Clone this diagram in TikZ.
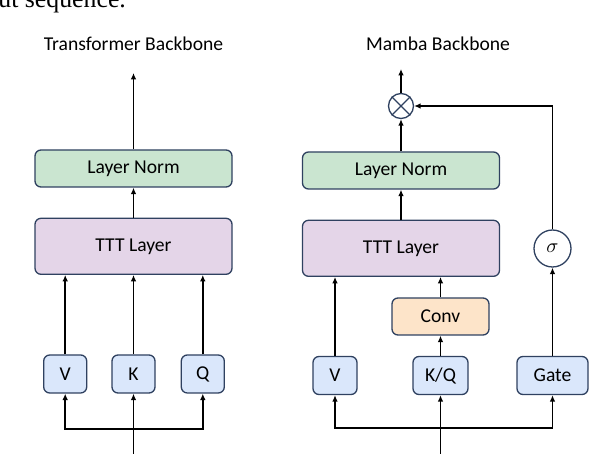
\documentclass[tikz,border=0pt]{standalone}
\usepackage{fontspec}
\setmainfont{Carlito}
\newfontfamily\paperfont{Liberation Serif}
\usetikzlibrary{positioning,arrows.meta}

\definecolor{edge}{HTML}{2F4160}
\definecolor{normgreen}{HTML}{CAE5D0}
\definecolor{tttpurple}{HTML}{E4D5E8}
\definecolor{convpeach}{HTML}{FDE4C9}
\definecolor{projblue}{HTML}{DAE7FB}

\tikzset{
    block/.style={draw=edge, line width=0.65pt, rounded corners=3pt, align=center,
        inner sep=0pt, font=\fontsize{9.8}{12}\selectfont},
    wide/.style={block, minimum width=98.5pt, minimum height=18.5pt},
    norm/.style={wide, fill=normgreen},
    ttt/.style={wide, fill=tttpurple, minimum height=28pt},
    proj/.style={block, fill=projblue, minimum height=19pt},
    op/.style={circle, draw=edge, line width=0.65pt, fill=white, inner sep=0pt},
    arr/.style={line width=0.75pt, -{Latex[length=3.2pt,width=2.8pt]}},
    title/.style={font=\fontsize{9.8}{12}\selectfont},
}

\begin{document}
\begin{tikzpicture}[x=0.5pt, y=-0.5pt]
            \clip (0,0) rectangle (590,454);
            \node [anchor=base east, font=\paperfont\fontsize{12.9}{15}\selectfont] (cap) at (133,8) {put sequence.};

            \node [title] (ta) at (133.5,44) {Transformer Backbone};
            \node [norm] (lna) at (133.5,168.5) {Layer Norm};
            \node [ttt, below=15pt of lna] (ttta) {TTT Layer};
            \node [proj, minimum width=21.5pt] (ka) at (133.5,374) {K};
            \node [proj, minimum width=21.5pt, left=12pt of ka] (va) {V};
            \node [proj, minimum width=21.5pt, right=12.5pt of ka] (qa) {Q};
            \coordinate (outa) at (133.5,73);
            \coordinate (ina) at (133.5,454);
            \coordinate (splita) at (133.5,429);

            \draw [arr] (ttta) -- (lna);
            \draw [arr] (lna) -- (outa);
            \draw [arr] (va) -- (va |- ttta.south);
            \draw [arr] (ka) -- (ka |- ttta.south);
            \draw [arr] (qa) -- (qa |- ttta.south);
            \draw [arr] (ina) -- (ka);
            \draw [arr] (splita) -| (va);
            \draw [arr] (splita) -| (qa);

            \node [title] (tb) at (438,44) {Mamba Backbone};
            \node [op, minimum size=12.5pt] (prodb) at (401,106) {};
            \draw [edge, line width=0.65pt] (prodb.north west) -- (prodb.south east)
                (prodb.north east) -- (prodb.south west);
            \node [norm] (lnb) at (401,170.5) {Layer Norm};
            \node [ttt, below=15pt of lnb] (tttb) {TTT Layer};
            \node [block, fill=convpeach, minimum width=48.5pt, minimum height=18.5pt] (convb) at (440.5,316.5) {Conv};
            \node [proj, minimum width=27.5pt] (kqb) at (440.5,375.5) {K/Q};
            \node [proj, minimum width=22pt] (vb) at (335,375.5) {V};
            \node [proj, minimum width=35.5pt] (gateb) at (552.5,375.5) {Gate};
            \node [op, minimum size=18.5pt] (sigb) at (552.5,248.5) {$\sigma$};
            \coordinate (outb) at (401,69);
            \coordinate (inb) at (440.5,454);
            \coordinate (splitb) at (440.5,428);

            \draw [arr] (lnb) -- (prodb);
            \draw [arr] (prodb) -- (outb);
            \draw [arr] (tttb) -- (lnb);
            \draw [arr] (vb) -- (vb |- tttb.south);
            \draw [arr] (convb) -- (convb |- tttb.south);
            \draw [arr] (kqb) -- (convb);
            \draw [arr] (gateb) -- (sigb);
            \draw [arr] (sigb) |- (prodb);
            \draw [arr] (inb) -- (kqb);
            \draw [arr] (splitb) -| (vb);
            \draw [arr] (splitb) -| (gateb);
\end{tikzpicture}
\end{document}
